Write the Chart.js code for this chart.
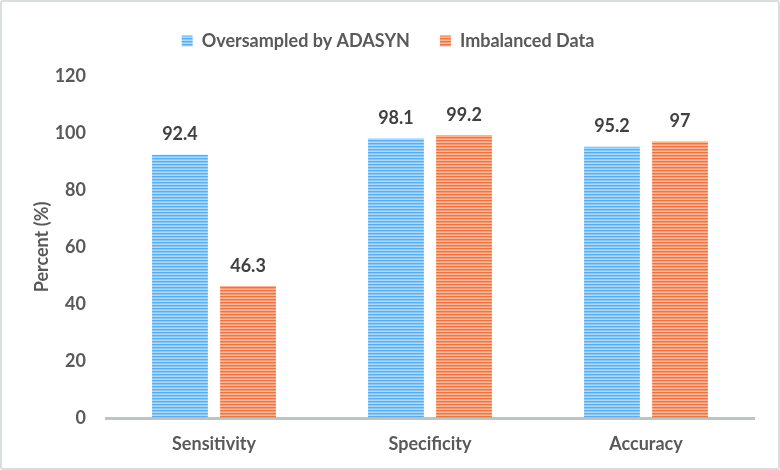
<!DOCTYPE html>
<html>
<head>
<meta charset="utf-8">
<script src="https://cdn.jsdelivr.net/npm/chart.js@4/dist/chart.umd.min.js"></script>
<style>
html,body{margin:0;padding:0;background:#fff;}
#wrap{position:absolute;left:0;top:0;width:776px;height:466px;border:2px solid #d9dfdf;border-radius:3px;background:#fff;}
canvas{display:block;}
</style>
</head>
<body>
<div id="wrap"><canvas id="c" width="776" height="466"></canvas></div>
<script>
const categories = ["Sensitivity", "Specificity", "Accuracy"];
const adasyn = [92.4, 98.1, 95.2];
const imbalanced = [46.3, 99.2, 97];
const seriesNames = ["Oversampled by ADASYN", "Imbalanced Data"];
const yTicks = [0, 20, 40, 60, 80, 100, 120];

function stripes(light, dark) {
  const p = document.createElement('canvas');
  p.width = 4; p.height = 3;
  const g = p.getContext('2d');
  g.fillStyle = light; g.fillRect(0, 0, 4, 3);
  g.fillStyle = dark; g.fillRect(0, 0, 4, 1.4);
  return g.createPattern(p, 'repeat');
}
const ctx = document.getElementById('c').getContext('2d');
const bluePat = stripes('#a9d9fb', '#5aaef0');
const orangePat = stripes('#f8b597', '#ee7442');

const font = "Lato, 'Open Sans', sans-serif";

const labelPlugin = {
  id: 'vals',
  afterDatasetsDraw(chart) {
    const c = chart.ctx;
    c.save();
    c.font = "bold 18px " + font;
    c.fillStyle = '#404040';
    c.textAlign = 'center';
    c.textBaseline = 'middle';
    chart.data.datasets.forEach((ds, i) => {
      const meta = chart.getDatasetMeta(i);
      meta.data.forEach((el, j) => {
        c.fillText(String(ds.data[j]), el.x, el.y - 20);
      });
    });
    c.restore();
  }
};

const legendFit = {
  id: 'legendFit',
  beforeInit(chart) {
    const orig = chart.legend.fit;
    chart.legend.fit = function () {
      orig.bind(chart.legend)();
      this.height = 74;
    };
  }
};

new Chart(ctx, {
  type: 'bar',
  data: {
    labels: categories,
    datasets: [
      {label: seriesNames[0], data: adasyn, backgroundColor: bluePat, borderWidth: 0, barPercentage: 0.82, categoryPercentage: 0.63},
      {label: seriesNames[1], data: imbalanced, backgroundColor: orangePat, borderWidth: 0, barPercentage: 0.82, categoryPercentage: 0.63}
    ]
  },
  options: {
    responsive: false,
    animation: false,
    devicePixelRatio: 1,
    layout: {padding: {left: 20, right: 24, top: 0, bottom: 10}},
    plugins: {
      legend: {
        position: 'top',
        labels: {
          boxWidth: 11, boxHeight: 11,
          font: {family: font, size: 18, weight: 'bold'},
          color: '#595959',
          padding: 30
        }
      },
      tooltip: {enabled: false}
    },
    scales: {
      x: {
        grid: {display: false},
        border: {display: true, color: '#bcc4c4', width: 3},
        ticks: {font: {family: font, size: 18, weight: 'bold'}, color: '#595959', padding: 7},
        afterFit(s) { s.height = 40; }
      },
      y: {
        min: 0, max: 120,
        afterBuildTicks(ax) { ax.ticks = yTicks.map(v => ({value: v})); },
        grid: {display: false},
        border: {display: false},
        ticks: {font: {family: font, size: 18, weight: 'bold'}, color: '#595959', padding: 12},
        title: {display: true, text: 'Percent (%)', font: {family: font, size: 18, weight: 'bold'}, color: '#595959', padding: {top: 9, bottom: 0}},
        afterFit(s) { s.width = 84; }
      }
    }
  },
  plugins: [labelPlugin, legendFit]
});
</script>
</body>
</html>
